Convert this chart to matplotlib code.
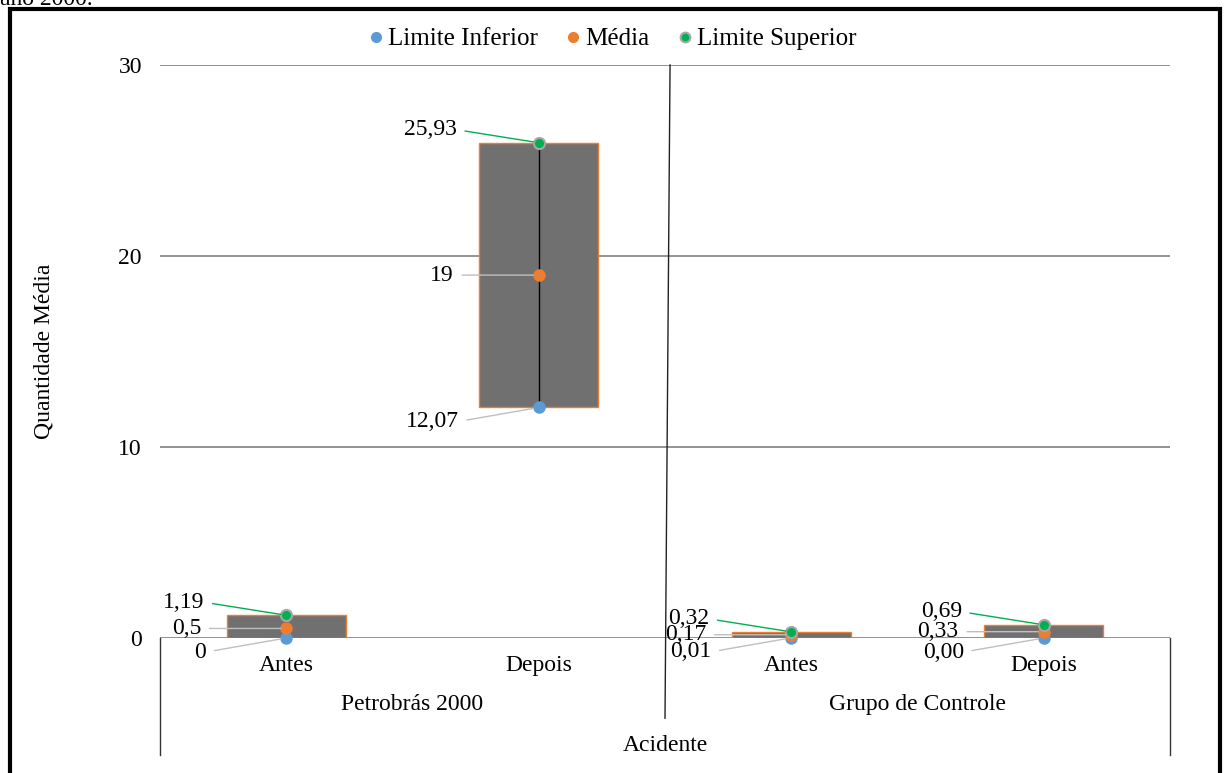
import matplotlib.pyplot as plt
from matplotlib.patches import Rectangle

plt.rcParams['font.family'] = ['Liberation Serif', 'DejaVu Serif']

# intervalos por grupo e momento
categorias = ['Antes', 'Depois', 'Antes', 'Depois']
grupos = ['Petrobrás 2000', 'Grupo de Controle']
limite_inferior = [0, 12.07, 0.01, 0.00]
media = [0.5, 19, 0.17, 0.33]
limite_superior = [1.19, 25.93, 0.32, 0.69]
# casas decimais usadas em cada rótulo
dec_inf = [0, 2, 2, 2]
dec_med = [1, 0, 2, 2]
dec_sup = [2, 2, 2, 2]
eixo_y = [0, 10, 20, 30]

azul = '#5B9BD5'
laranja = '#ED7D31'
verde = '#00B050'
cinza_barra = '#707070'
fs = 17


def rotulo(v, d):
    return f"{v:.{d}f}".replace('.', ',')


fig = plt.figure(figsize=(12.24, 7.73), dpi=100)
ax = fig.add_axes([160 / 1224, 1 - 638 / 773, 1010 / 1224, 573 / 773])

x = list(range(len(categorias)))

# barras entre limite inferior e superior
alturas = [s - i for s, i in zip(limite_superior, limite_inferior)]
ax.bar(x, alturas, bottom=limite_inferior, width=0.47, color=cinza_barra,
       edgecolor=laranja, linewidth=1, zorder=2)

# linha máximo-mínimo
ax.vlines(x, limite_inferior, limite_superior, color='black', lw=1, zorder=3)

ax.plot(x, limite_inferior, 'o', color=azul, ms=8, mec=azul, ls='none',
        zorder=4, clip_on=False)
ax.plot(x, media, 'o', color=laranja, ms=8, mec=laranja, ls='none',
        zorder=4, clip_on=False)
ax.plot(x, limite_superior, 'o', color=verde, ms=8, mec='#A6A6A6', mew=1.5,
        ls='none', zorder=5, clip_on=False)

# rótulos com linhas de chamada
series = [
    (limite_inferior, dec_inf, (-80, -14), '#BFBFBF'),
    (media, dec_med, (-85, 0), '#BFBFBF'),
    (limite_superior, dec_sup, (-82, 13), verde),
]
for valores, decs, off, cor in series:
    for xi, v, d in zip(x, valores, decs):
        ax.annotate(rotulo(v, d), (xi, v), xytext=off, textcoords='offset pixels',
                    ha='right', va='center', fontsize=fs, zorder=6,
                    arrowprops=dict(arrowstyle='-', color=cor, lw=1,
                                    shrinkA=4, shrinkB=4, relpos=(1, 0.5)))

ax.set_xlim(-0.5, 3.5)
ax.set_ylim(0, 30)
ax.set_yticks(eixo_y)
ax.set_yticklabels([str(v) for v in eixo_y], fontsize=fs)
ax.set_xticks([])
ax.tick_params(axis='y', length=0, pad=13)
ax.yaxis.grid(True, color='#7F7F7F', lw=1.2, zorder=1)
ax.set_axisbelow(True)
for s in ax.spines.values():
    s.set_visible(False)
ax.set_ylabel('Quantidade Média', fontsize=fs, labelpad=46)

# eixo de categorias em dois níveis
trans = ax.get_xaxis_transform()
for xi, c in zip(x, categorias):
    ax.text(xi, -0.048, c, transform=trans, ha='center', va='center', fontsize=fs)
for gi, g in enumerate(grupos):
    ax.text(gi * 2 + 0.5, -0.116, g, transform=trans, ha='center', va='center', fontsize=fs)
ax.text(0.5, -0.188, 'Acidente', transform=ax.transAxes, ha='center', va='center', fontsize=fs)

linha = dict(color='#333333', lw=1, clip_on=False, transform=ax.transAxes)
ax.plot([0, 0], [0, -0.204], **linha)
ax.plot([1, 1], [0, -0.204], **linha)
ax.plot([0.505, 0.5], [1, -0.14], color='#222222', lw=1, clip_on=False,
        transform=ax.transAxes)

# legenda
handles = [
    plt.Line2D([], [], marker='o', ls='none', color=azul, ms=7),
    plt.Line2D([], [], marker='o', ls='none', color=laranja, ms=7),
    plt.Line2D([], [], marker='o', ls='none', color=verde, ms=7, mec='#A6A6A6', mew=1.5),
]
fig.legend(handles, ['Limite Inferior', 'Média', 'Limite Superior'], ncol=3,
           loc='center', bbox_to_anchor=(610 / 1224, 1 - 39 / 773), frameon=False,
           fontsize=18, handletextpad=0.0, columnspacing=0.9, handlelength=1.0)

# moldura e legenda da figura (cortada no topo)
fig.patches.append(Rectangle((10 / 1224, -0.05), 1210 / 1224, 1.05 - 9 / 773,
                             transform=fig.transFigure, fill=False,
                             edgecolor='black', lw=3))
fig.text(0.0, 1 - 5 / 773, 'ano 2000.', fontsize=fs, va='baseline', ha='left')

fig.savefig('out.png', dpi=100)
